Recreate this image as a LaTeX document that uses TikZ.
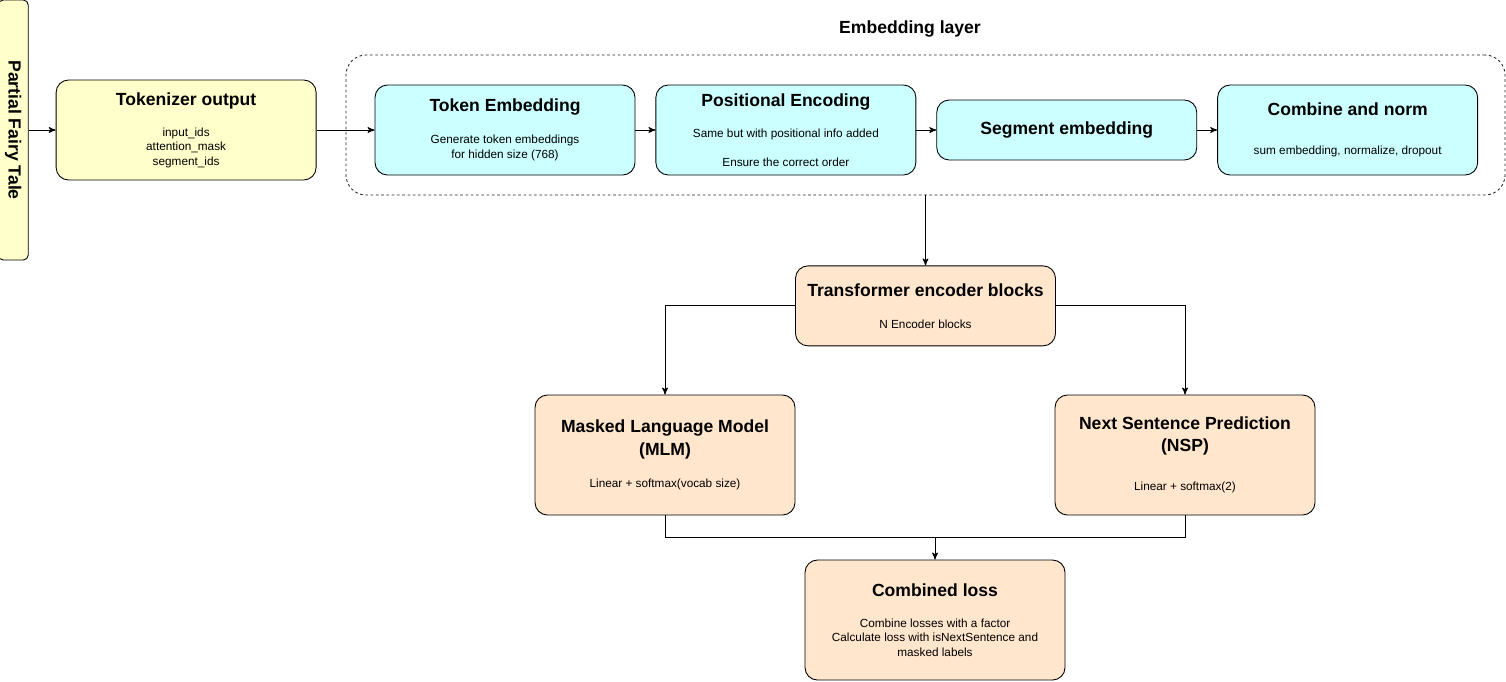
\documentclass[tikz,border=0pt]{standalone}
\usepackage{fontspec}
\setmainfont{Liberation Sans}
\usetikzlibrary{arrows,positioning}
\definecolor{paleyellow}{HTML}{FFFFCC}
\definecolor{palecyan}{HTML}{CCFFFF}
\definecolor{palepeach}{HTML}{FFE6CC}
\newcommand{\boxtitle}{\fontsize{10}{12}\selectfont\bfseries}

\begin{document}
\begin{tikzpicture}[->, >=stealth', line width=0.5pt, node distance=0.4cm,
    box node/.style={rectangle, rounded corners=0.25cm, draw, align=center, minimum width=5.2cm, minimum height=1.8cm, inner sep=2pt, font=\fontsize{6.7}{8.2}\selectfont},
    token node/.style={box node, fill=paleyellow},
    embed node/.style={box node, fill=palecyan},
    head node/.style={box node, fill=palepeach}]
    \useasboundingbox (0,0) rectangle (30.12,-13.62);

    \node[embed node] (TE) at (10.1,-2.6) {{\boxtitle Token Embedding}\\[10pt] Generate token embeddings\\for hidden size (768)};
    \node[embed node] (PE) [right=of TE] {{\boxtitle Positional Encoding}\\[9.4pt] Same but with positional info added\\[8.2pt] Ensure the correct order};
    \node[embed node, minimum height=1.2cm] (SE) [right=of PE] {{\boxtitle Segment embedding}};
    \node[embed node] (CN) [right=of SE] {{\boxtitle Combine and norm}\\[14pt] sum embedding, normalize, dropout};
    \node[token node, minimum height=2cm] (TOK) [left=1.16cm of TE] {{\boxtitle Tokenizer output}\\[9.4pt] input\_ids\\attention\_mask\\segment\_ids};
    \node[token node, minimum width=0.6cm, minimum height=5.2cm, rounded corners=0.1cm] (PFT) [left=0.54cm of TOK] {\rotatebox{-90}{\boxtitle Partial Fairy Tale}};

    % embedding layer frame
    \node[draw=black!85, dash pattern=on 1.5pt off 1.5pt, line width=0.5pt, rounded corners=0.4cm, minimum width=23.18cm, minimum height=2.8cm] (EMB) at (18.51,-2.5) {};
    \node[font=\boxtitle] (EMBL) at (18.2,-0.58) {Embedding layer};

    \node[head node, minimum height=1.6cm] (TRF) [below=1.4cm of EMB] {{\boxtitle Transformer encoder blocks}\\[10pt] N Encoder blocks};
    \node[head node, minimum height=2.4cm] (MLM) at (13.3,-9.1) {{\boxtitle Masked Language Model}\\[2.6pt] {\boxtitle (MLM)}\\[10pt] Linear + softmax(vocab size)};
    \node[head node, minimum height=2.4cm] (NSP) at (23.7,-9.1) {{\boxtitle Next Sentence Prediction}\\[4.3pt] {\boxtitle (NSP)}\\[14pt] Linear + softmax(2)};
    \node[head node, minimum height=2.4cm] (CL) at (18.7,-12.4) {{\boxtitle Combined loss}\\[9.4pt] Combine losses with a factor\\Calculate loss with isNextSentence and\\masked labels};
    \coordinate (JN) at (18.7,-10.74);

    \path
        (PFT) edge (TOK)
        (TOK) edge (TE)
        (TE) edge (PE)
        (PE) edge (SE)
        (SE) edge (CN)
        (EMB) edge (TRF);
    \draw (TRF.west) -| (MLM.north);
    \draw (TRF.east) -| (NSP.north);
    \draw[-] (MLM.south) |- (JN);
    \draw[-] (NSP.south) |- (JN);
    \draw (JN) -- (CL.north);
\end{tikzpicture}
\end{document}
